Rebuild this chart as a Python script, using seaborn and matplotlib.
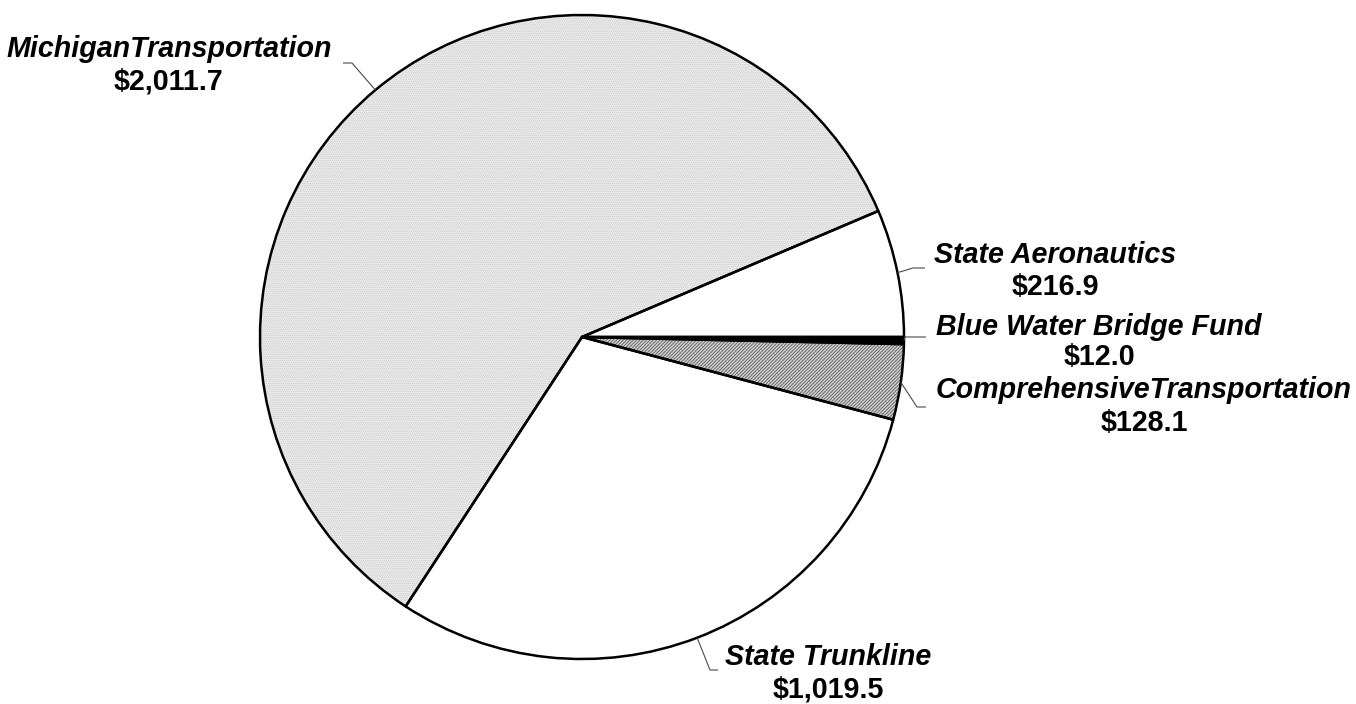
import matplotlib
matplotlib.use("Agg")
import numpy as np
import pandas as pd
import matplotlib.pyplot as plt
import seaborn as sns

# Fund amounts (millions), listed counter-clockwise from 3 o'clock
categories = ["State Aeronautics", "MichiganTransportation", "State Trunkline",
              "ComprehensiveTransportation", "Blue Water Bridge Fund"]
amounts = [216.9, 2011.7, 1019.5, 128.1, 12.0]
value_labels = ["$216.9", "$2,011.7", "$1,019.5", "$128.1", "$12.0"]

# Fill styling per slice
face_colors = ["white", "#ebebeb", "white", "#d2d2d2", "black"]
hatch_colors = ["white", "#d0d0d0", "white", "#6a6a6a", "black"]
hatch_styles = [None, "........", None, "//////////", None]

# Label layout in pixel space (x centre, name baseline, value baseline)
label_x = [1055, 169, 828, 1144, 1099]
name_y = [263, 57, 665, 398, 335]
value_y = [295, 90, 698, 431, 365]
# Leader lines: elbow point and end point (pixels)
leader_elbow = [(913, 268), (352, 63), (710, 670), (917, 407), (905, 337)]
leader_end = [(925, 268), (343, 63), (718, 670), (926, 407), (926, 337)]

df = pd.DataFrame({"fund": categories, "amount": amounts, "label": value_labels})

W, H = 1356, 704
CX, CY, R = 582, 337, 322

sns.set_theme(style="white")
plt.rcParams["font.family"] = ["Liberation Sans", "DejaVu Sans"]
plt.rcParams["hatch.linewidth"] = 0.7

fig = plt.figure(figsize=(W / 100, H / 100), dpi=100)
ax = fig.add_axes([0, 0, 1, 1])

# Pass 1: fills and hatching (hatch colour follows edge colour)
fills, _ = ax.pie(df["amount"], center=(CX, CY), radius=R, startangle=0,
                  counterclock=False, colors=face_colors,
                  wedgeprops=dict(linewidth=0))
for w, hc, hs in zip(fills, hatch_colors, hatch_styles):
    w.set_edgecolor(hc)
    w.set_linewidth(0)
    if hs:
        w.set_hatch(hs)

# Pass 2: black outlines
outlines, _ = ax.pie(df["amount"], center=(CX, CY), radius=R, startangle=0,
                     counterclock=False,
                     wedgeprops=dict(fill=False, edgecolor="black",
                                     linewidth=1.8, joinstyle="round"))

ax.set_xlim(0, W)
ax.set_ylim(H, 0)
ax.set_aspect("equal")
ax.axis("off")

for i, w in enumerate(outlines):
    mid = np.deg2rad((w.theta1 + w.theta2) / 2)
    sx = CX + R * np.cos(mid)
    sy = CY + R * np.sin(mid)
    ex, ey = leader_elbow[i]
    fx, fy = leader_end[i]
    ax.plot([sx, ex, fx], [sy, ey, fy], color="#4a4a4a", lw=0.8,
            solid_capstyle="butt", zorder=1)
    ax.text(label_x[i], name_y[i], df["fund"][i], ha="center", va="baseline",
            fontsize=20.6, fontweight="bold", fontstyle="italic", color="black")
    ax.text(label_x[i], value_y[i], df["label"][i], ha="center", va="baseline",
            fontsize=20.6, fontweight="bold", color="black")

fig.savefig("out.png", dpi=100, facecolor="white")
